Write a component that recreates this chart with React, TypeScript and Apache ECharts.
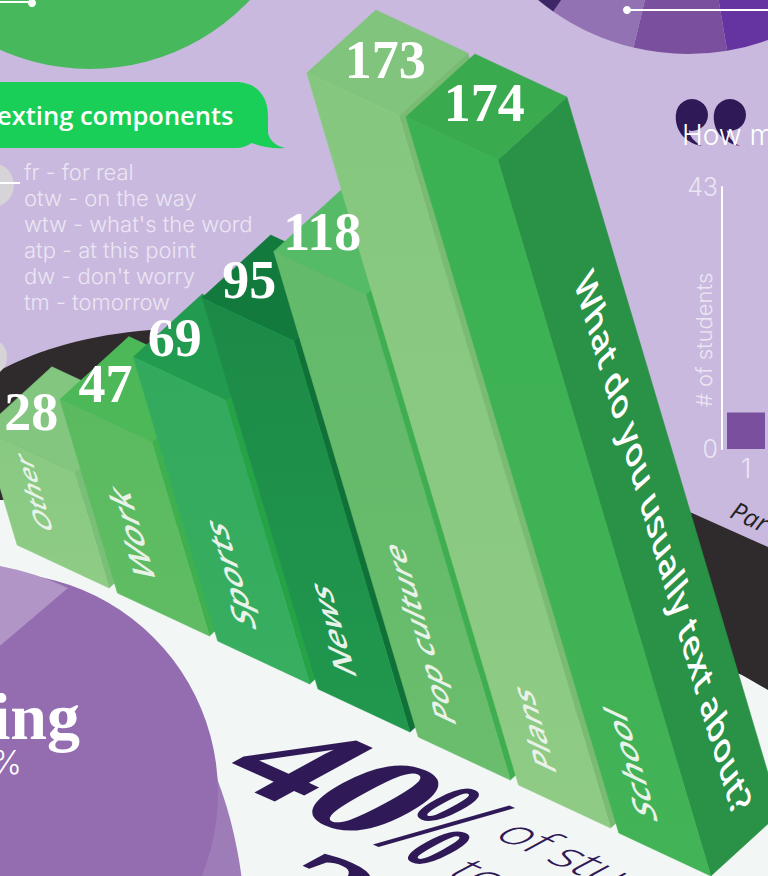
import React, { useEffect, useRef } from "react";
import * as echarts from "echarts";

// ---- data ----
const categories = ["Other", "Work", "Sports", "News", "Pop culture", "Plans", "School"];
const counts = [28, 47, 69, 95, 118, 173, 174];
const glossary = ["fr - for real", "otw - on the way", "wtw - what's the word", "atp - at this point", "dw - don't worry", "tm - tomorrow"];
const pieShares = [60.4, 23, 21.6, 255];
const partnerBuckets = ["1"];
const partnerCounts = [6];

// ---- styling ----
const LAV = "#c9b9de";
const INK = "#2f1a57";
const topColors = ["#82c67f", "#4cb858", "#229a4f", "#137a3e", "#55bb66", "#80c47d", "#3aaa4f"];
const frontTop = ["#88c981", "#5bba60", "#33a95e", "#1c8a47", "#62ba6a", "#85c77f", "#3bb153"];
const frontBottom = ["#8fcc86", "#5fbc62", "#38ae60", "#21984e", "#6abd6d", "#8fcb85", "#42b356"];
const sideColors = ["#7abf78", "#3fb04e", "#27a347", "#0f7138", "#3fae50", "#7abb74", "#2a9246"];
const pieColors = ["#6534a0", "#7a4f9e", "#9272b3", "#3e2566"];
const labelNudgeX = [-32, -35, -39, -33, -32, -2, -2];
const labelNudgeY = [-8, -6, -9, -8, -9, -3, -4];
const catLabelSize = [25, 33, 32, 32, 30, 30, 32];
const FLOOR_STEP = 48;
const LEAN = 0.2975;
const FRONT = [92, 43];
const DEPTH = [69, -63];
const FL = "'Open Sans'";
const SERIF = "'Liberation Serif'";

function norm(x: number, y: number) { const l = Math.hypot(x, y); return [x / l, y / l]; }

// x-axis of the text goes to u, its y-axis (down) to v
function affine(px: number, py: number, u: number[], v: number[], style: any, z = 5) {
  const [a, b, c, d] = [u[0], u[1], v[0], v[1]];
  const E = (a + d) / 2, F = (a - d) / 2, G = (b + c) / 2, H = (b - c) / 2;
  const Q = Math.hypot(E, H), R = Math.hypot(F, G);
  const a1 = Math.atan2(G, F), a2 = Math.atan2(H, E);
  const alpha = (a2 + a1) / 2, beta = (a2 - a1) / 2;
  return {
    type: "group", x: px, y: py, rotation: -alpha, z, silent: true,
    children: [{
      type: "group", scaleX: Q + R, scaleY: Q - R, z, silent: true,
      children: [{ type: "text", rotation: -beta, z, silent: true, style: txt(style) }],
    }],
  };
}
function txt(s: any) {
  return { x: 0, y: 0, align: "left", textAlign: "left", verticalAlign: "middle", textVerticalAlign: "middle", ...s,
    ...(s.align ? { textAlign: s.align } : {}) };
}
function plain(x: number, y: number, text: string, font: string, fill: string, align = "left", z = 5) {
  return { type: "text", z, silent: true, style: txt({ x, y, text, font, fill, align }) };
}

const shapes: Record<string, string> = {
  darkBlob: "M-10,376 C30,352 85,335 150,330 L300,400 L692,513 L768,547 L768,690 L742,675 L300,500 L-10,500 Z",
  floorBlob: "M-10,440 L300,480 L742,675 L768,687 L768,876 L-10,876 Z",
  bubble: "M-10,82 L236,82 C256,82 268,96 268,116 L268,133 C270,141 276,146 285,148 C274,149 262,147 252,143 C247,146 242,148 236,148 L-10,148 Z",
  purpleOuter: "M200,740 C225,790 236,835 242,880 L100,880 Z",
  purpleTop: "M-5,565 Q35,572 68,588 L-5,650 Z",
  quoteTail: "M0,14 C-2,30 8,44 26,47 C18,43 13,37 12,28 Z",
};
Object.entries(shapes).forEach(([name, d]) => {
  echarts.graphic.registerShape(name, echarts.graphic.extendPath(d, {}));
});

export default function App() {
  const ref = useRef<HTMLDivElement>(null);
  useEffect(() => {
    document.body.style.margin = "0";
    const chart = echarts.init(ref.current!, undefined, { renderer: "svg" });

    const geom = (api: any) => {
      const i = api.value(0), v = api.value(1);
      const p0 = api.coord([i, 0]), p1 = api.coord([i, v]);
      const h = p0[1] - p1[1];
      const base = [p0[0], p0[1] + i * FLOOR_STEP];
      const tl = [base[0] - h * LEAN, base[1] - h];
      return { i, v, base, tl };
    };
    const poly = (pts: number[][], fill: any, stroke: string) => ({ type: "polygon", shape: { points: pts }, style: { fill, stroke, lineWidth: 0.6 }, silent: true });
    const renderBar = (_: any, api: any) => {
      const { i, base, tl } = geom(api);
      const bl = base, br = [bl[0] + FRONT[0], bl[1] + FRONT[1]];
      const tr = [tl[0] + FRONT[0], tl[1] + FRONT[1]];
      const sideT = [tr[0] + DEPTH[0], tr[1] + DEPTH[1]];
      const sideB = [br[0] + DEPTH[0], br[1] + DEPTH[1]];
      const back = [tl[0] + DEPTH[0], tl[1] + DEPTH[1]];
      const grad = { type: "linear", x: 0, y: 0, x2: 0, y2: 1, colorStops: [{ offset: 0, color: frontTop[i] }, { offset: 1, color: frontBottom[i] }] };
      return {
        type: "group",
        children: [
          poly([tr, sideT, sideB, br], sideColors[i], sideColors[i]),
          poly([tl, back, sideT, tr], topColors[i], topColors[i]),
          poly([tl, tr, br, bl], grad, frontBottom[i]),
        ],
      };
    };
    const barDir = norm(-LEAN, -1);
    const acrossDir = norm(-FRONT[0], -FRONT[1]);
    const renderText = (_: any, api: any) => {
      const { i, v, base, tl } = geom(api);
      const k = 1.1;
      return {
        type: "group",
        children: [
          {
            type: "text", silent: true,
            style: txt({
              x: tl[0] + (FRONT[0] + DEPTH[0]) / 2 + labelNudgeX[i],
              y: tl[1] + (FRONT[1] + DEPTH[1]) / 2 + labelNudgeY[i],
              text: String(v), font: `bold 54px ${SERIF}`, fill: "#fff", align: "center",
            }),
          },
          affine(base[0] + 27, base[1] - 15, barDir.map((n) => n * 1.12), acrossDir.map((n) => -n * k), {
            text: categories[i], font: `600 ${catLabelSize[i]}px ${FL}`, fill: "#e9f2e9",
          }),
        ],
      };
    };

    const sideU = norm(LEAN, 1);
    const sideV = norm(-DEPTH[0], -DEPTH[1]);
    const floorB = norm(0.91, 0.41);
    const floorDown = norm(-0.877, 0.48);
    // text standing on the floor plane, positioned by its baseline start
    const floorText = (x: number, y: number, text: string, size: number, font: string) =>
      affine(x - floorDown[0] * size * 0.33, y - floorDown[1] * size * 0.33, floorB, floorDown, { text, font: `${font} ${size}px ${font === "bold" ? SERIF : FL}`, fill: INK });

    const graphic: any[] = [
      { type: "floorBlob", z: 0, silent: true, style: { fill: "#f2f6f5" } },
      { type: "darkBlob", z: 0, silent: true, style: { fill: "#2f2a2c" } },
      { type: "circle", z: 0, silent: true, shape: { cx: 90, cy: -151, r: 220 }, style: { fill: "#48b85c" } },
      { type: "circle", z: 0, silent: true, shape: { cx: -8, cy: 185, r: 22 }, style: { fill: "#d6d4d8" } },
      { type: "circle", z: 0, silent: true, shape: { cx: -12, cy: 357, r: 19 }, style: { fill: "#d6d4d8" } },
      { type: "purpleOuter", z: 0, silent: true, style: { fill: "#9d7cb8" } },
      { type: "circle", z: 0, silent: true, shape: { cx: -2, cy: 793, r: 220 }, style: { fill: "#946db0" } },
      { type: "purpleTop", z: 0, silent: true, style: { fill: "#b095c6" } },
      { type: "bubble", z: 1, silent: true, style: { fill: "#19cf58" } },
      { type: "line", z: 5, silent: true, shape: { x1: 0, y1: 183, x2: 20, y2: 183 }, style: { stroke: "#fff", lineWidth: 2 } },
      { type: "line", z: 5, silent: true, shape: { x1: 0, y1: 2, x2: 32, y2: 2 }, style: { stroke: "#fff", lineWidth: 2 } },
      { type: "circle", z: 5, silent: true, shape: { cx: 32, cy: 3, r: 4 }, style: { fill: "#fff" } },
      { type: "line", z: 5, silent: true, shape: { x1: 627, y1: 10, x2: 768, y2: 10 }, style: { stroke: "#fff", lineWidth: 2 } },
      { type: "circle", z: 5, silent: true, shape: { cx: 627, cy: 10, r: 4 }, style: { fill: "#fff" } },
      { type: "circle", z: 1, silent: true, shape: { cx: 692, cy: 115, r: 16 }, style: { fill: INK } },
      { type: "circle", z: 1, silent: true, shape: { cx: 730, cy: 115, r: 16 }, style: { fill: INK } },
      { type: "quoteTail", z: 1, x: 676, y: 99, silent: true, style: { fill: INK } },
      { type: "quoteTail", z: 1, x: 714, y: 99, silent: true, style: { fill: INK } },
      plain(233.5, 115, "exting components", `600 25.5px ${FL}`, "#fff", "right"),
      ...glossary.map((t, i) => plain(24, 171.5 + i * 26, t, `300 22px Inter`, "#ebe6f3")),
      plain(80, 716, "ing", `bold 66px ${SERIF}`, "#fff", "right"),
      plain(22, 762, "%", `300 32px Inter`, "#fff", "right"),
      plain(682, 135, "How many", `300 28px Inter`, "#fff"),
      { type: "text", z: 5, silent: true, x: 704, y: 340, rotation: Math.PI / 2,
        style: txt({ text: "# of students", font: `300 22px Inter`, fill: "#ebe6f3", align: "center" }) },
      affine(733, 508, norm(0.906, 0.42), norm(-0.42, 0.906), { text: "Par", font: `italic 400 25px ${FL}`, fill: "#222" }),
      affine(584, 275, sideU, sideV, { text: "What do you usually text about?", font: `600 36px ${FL}`, fill: "#fff" }),
      floorText(211, 772, "40", 170, "bold"),
      affine(445, 825, floorB.map((n) => n * 0.5), floorDown, { text: "%", font: `bold 170px ${SERIF}`, fill: INK, align: "center" }),
      floorText(220, 901, "2", 170, "bold"),
      floorText(494, 835, "of students", 50, "300"),
      floorText(447, 873, "to", 50, "300"),
    ];

    chart.setOption({
      animation: false,
      backgroundColor: LAV,
      graphic: { elements: graphic },
      grid: [
        { left: -33, width: 702, top: -195.7, height: 740.7, containLabel: false, outerBoundsMode: "none" },
        { left: 722, width: 48, top: 187, height: 262, outerBoundsMode: "none" },
      ],
      xAxis: [
        { type: "category", data: categories, gridIndex: 0, show: false },
        { type: "category", data: partnerBuckets, gridIndex: 1, axisLine: { show: false }, axisTick: { show: false },
          axisLabel: { color: "#ebe6f3", fontFamily: "Inter", fontWeight: 300, fontSize: 27, margin: 6 } },
      ],
      yAxis: [
        { type: "value", min: 0, max: 180, gridIndex: 0, show: false },
        { type: "value", min: 0, max: 43, interval: 43, gridIndex: 1, splitLine: { show: false }, axisTick: { show: false },
          axisLine: { show: true, lineStyle: { color: "#fff", width: 2 } },
          axisLabel: { color: "#ebe6f3", fontFamily: "Inter", fontWeight: 300, fontSize: 25, margin: 4 } },
      ],
      series: [
        { type: "pie", z: 1, silent: true, center: [688, -181], radius: [0, 235], startAngle: 340, label: { show: false }, labelLine: { show: false },
          data: pieShares.map((value, i) => ({ value, itemStyle: { color: pieColors[i] } })) },
        { type: "custom", z: 2, xAxisIndex: 0, yAxisIndex: 0, silent: true, clip: false, encode: { x: 0, y: 1 },
          data: counts.map((v, i) => [i, v]), renderItem: renderBar },
        { type: "custom", z: 3, xAxisIndex: 0, yAxisIndex: 0, silent: true, clip: false, encode: { x: 0, y: 1 },
          data: counts.map((v, i) => [i, v]), renderItem: renderText },
        { type: "bar", z: 2, xAxisIndex: 1, yAxisIndex: 1, silent: true, barWidth: 38, data: partnerCounts, itemStyle: { color: "#7a4f9e" } },
      ],
    });
    return () => chart.dispose();
  }, []);
  return <div ref={ref} style={{ width: 768, height: 876, overflow: "hidden" }} />;
}
